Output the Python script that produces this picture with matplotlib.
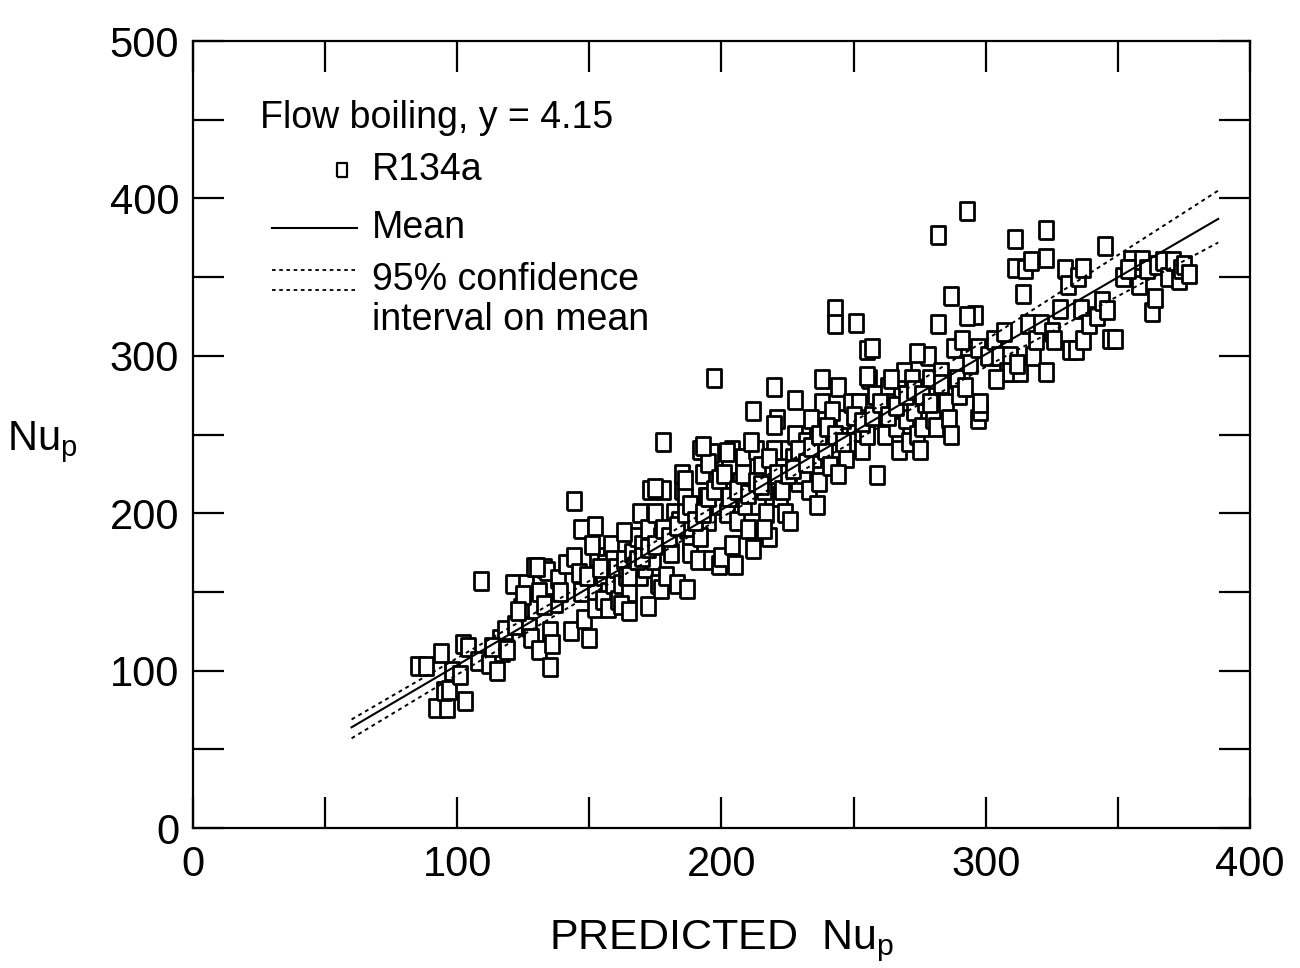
import matplotlib
matplotlib.use("Agg")
import matplotlib.pyplot as plt
from matplotlib.ticker import MultipleLocator

# ---- data ----
pred = [85, 88, 92, 96, 95, 97, 94, 98,
        101, 103, 102, 104, 108, 109,
        112, 115, 116, 117, 118, 119, 113,
        121, 122, 124, 126, 127, 128, 129, 125, 123,
        131, 131, 133, 135, 135, 136, 134, 137, 138, 139, 133, 130,
        141, 144, 143, 144, 146, 147, 148, 149, 147,
        150, 152, 152, 153, 155, 156, 157, 158, 159, 155, 157, 159, 154, 151,
        160, 161, 162, 163, 164, 165, 166, 167, 168, 169, 162, 165, 163, 172, 169,
        170, 171, 172, 173, 174, 175, 176, 177, 178, 178, 177, 175, 179,
        181, 182, 183, 184, 185, 186, 187, 188, 189, 185, 188, 186, 187,
        191, 192, 193, 194, 195, 196, 196, 198, 199, 195, 192, 197, 199, 193,
        200, 201, 202, 203, 204, 205, 206, 207, 208, 209, 204, 205, 202,
        210, 211, 212, 213, 214, 215, 216, 217, 218, 219, 212, 211, 216,
        220, 221, 222, 223, 224, 225, 226, 227, 228, 229, 228, 220, 220,
        231, 232, 233, 235, 236, 237, 238, 239, 238, 236, 234,
        241, 243, 243, 244, 245, 246, 247, 248, 249, 244, 242,
        251, 252, 253, 254, 256, 255, 257, 258, 255, 255, 259,
        261, 262, 263, 265, 266, 267, 268, 269, 270, 264,
        271, 272, 273, 274, 276, 277, 278, 279, 280, 275, 274,
        281, 282, 282, 283, 285, 286, 287, 288, 289, 290, 287,
        291, 292, 293, 294, 296, 297, 298, 297, 298, 293,
        301, 303, 305, 307, 308, 309, 309, 304,
        311, 311, 313, 312, 314, 315, 316, 317, 318, 319,
        321, 323, 323, 323, 325, 326, 328, 330,
        331, 332, 334, 335, 336, 337, 337, 339,
        342, 344, 345, 347, 349, 346,
        352, 355, 356, 358, 359, 354,
        361, 363, 364, 365, 367, 369,
        371, 373, 374, 375, 377,
        165, 168, 170, 172, 175, 178, 180, 183, 186, 188,
        190, 193, 195, 197, 199, 201, 203, 206, 208, 210,
        213, 215, 218, 221, 223, 225, 227, 229, 232, 234,
        237, 240, 243, 246, 250, 253, 257, 260, 263, 266,
        270, 273, 276, 279, 283]

meas = [103, 103, 76, 76, 87, 88, 111, 100,
        97, 81, 117, 115, 106, 157,
        104, 100, 120, 112, 126, 113, 115,
        155, 129, 140, 155, 128, 121, 166, 148, 138,
        150, 113, 165, 102, 125, 117, 163, 143, 158, 150, 142, 166,
        168, 208, 125, 172, 162, 150, 133, 160, 190,
        121, 192, 140, 172, 160, 168, 150, 180, 170, 145, 140, 155, 165, 180,
        165, 145, 155, 170, 160, 150, 175, 165, 185, 160, 142, 138, 188, 141, 200,
        180, 165, 190, 215, 170, 200, 155, 185, 215, 245, 152, 216, 160,
        175, 200, 155, 195, 215, 210, 190, 180, 200, 225, 175, 221, 152,
        170, 240, 225, 210, 195, 170, 238, 220, 205, 232, 185, 286, 167, 243,
        172, 215, 200, 230, 240, 210, 195, 220, 235, 205, 180, 167, 239,
        190, 220, 177, 240, 205, 230, 215, 200, 185, 225, 265, 245, 190,
        280, 260, 210, 230, 200, 240, 195, 235, 250, 220, 272, 256, 240,
        225, 245, 215, 235, 250, 220, 285, 240, 270, 205, 260,
        230, 330, 320, 280, 250, 260, 235, 245, 270, 225, 265,
        321, 270, 240, 260, 285, 304, 305, 275, 250, 287, 224,
        265, 250, 280, 270, 255, 240, 275, 290, 260, 285,
        245, 285, 265, 250, 255, 270, 300, 285, 260, 240, 302,
        255, 320, 377, 290, 270, 260, 250, 305, 285, 275, 338,
        310, 280, 392, 295, 326, 260, 265, 305, 270, 325,
        300, 310, 300, 315, 290, 300, 290, 285,
        374, 356, 290, 295, 339, 355, 320, 360, 300, 310,
        320, 380, 362, 290, 315, 310, 330, 355,
        345, 304, 304, 350, 330, 310, 356, 320,
        325, 335, 370, 311, 311, 329,
        350, 361, 355, 345, 361, 355,
        355, 328, 337, 358, 360, 350,
        360, 348, 355, 358, 352,
        160, 170, 172, 178, 180, 190, 185, 192, 200, 205,
        195, 200, 210, 215, 222, 225, 210, 215, 225, 212,
        220, 218, 235, 225, 215, 225, 228, 240, 232, 242,
        250, 255, 250, 245, 262, 258, 262, 270, 262, 268,
        275, 278, 275, 270, 282]

line_x = [60, 140, 220, 300, 388]
mean_y = [64, 143, 222, 301, 387]
upper_y = [69, 147, 227, 310, 405]
lower_y = [57, 138, 217, 293, 372]

x_ticks = [0, 100, 200, 300, 400]
y_ticks = [0, 100, 200, 300, 400, 500]

# ---- figure ----
plt.rcParams['font.family'] = ['Liberation Sans', 'DejaVu Sans']
fig = plt.figure(figsize=(13, 9.68), dpi=100)
ax = fig.add_axes([0.1485, 0.1446, 0.8130, 0.8130])

rect = [(-0.72, -1), (0.72, -1), (0.72, 1), (-0.72, 1), (-0.72, -1)]
ax.plot(pred, meas, linestyle='none', marker=rect, markersize=13.5,
        markerfacecolor='white', markeredgecolor='black', markeredgewidth=2.0)

ax.plot(line_x, mean_y, color='black', lw=1.5)
ax.plot(line_x, upper_y, color='black', lw=1.4, linestyle=(0, (2, 2)))
ax.plot(line_x, lower_y, color='black', lw=1.4, linestyle=(0, (2, 2)))

ax.set_xlim(0, 400)
ax.set_ylim(0, 500)
ax.set_xticks(x_ticks)
ax.set_yticks(y_ticks)
ax.xaxis.set_minor_locator(MultipleLocator(50))
ax.yaxis.set_minor_locator(MultipleLocator(50))
ax.tick_params(which='both', direction='in', length=22, width=1.6,
               top=True, right=True, labelsize=30)
ax.tick_params(axis='x', pad=12)
ax.tick_params(axis='y', pad=10)
for s in ax.spines.values():
    s.set_linewidth(1.6)

ax.set_xlabel(r'PREDICTED  Nu$_\mathregular{p}$', fontsize=31, labelpad=24)
ax.set_ylabel(r'Nu$_\mathregular{p}$', fontsize=30, rotation=0,
              va='center', ha='center')
ax.yaxis.set_label_coords(-0.143, 0.49)

# legend (manual, in data coords)
fs = 27
ax.text(25.4, 451, 'Flow boiling, y = 4.15', fontsize=fs, va='center')
ax.plot([56.4], [418], linestyle='none', marker=rect, markersize=10,
        markerfacecolor='white', markeredgecolor='black', markeredgewidth=1.6)
ax.text(67.7, 418, 'R134a', fontsize=fs, va='center')
ax.plot([30, 62], [381, 381], color='black', lw=1.5)
ax.text(67.7, 381, 'Mean', fontsize=fs, va='center')
ax.plot([30, 62], [354.5, 354.5], color='black', lw=1.3, linestyle=(0, (2, 2)))
ax.plot([30, 62], [342, 342], color='black', lw=1.3, linestyle=(0, (2, 2)))
ax.text(67.7, 348, '95% confidence', fontsize=fs, va='center')
ax.text(67.7, 323, 'interval on mean', fontsize=fs, va='center')

fig.savefig('out.png', dpi=100)
